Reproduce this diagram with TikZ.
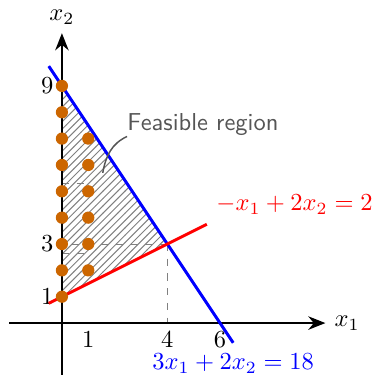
\documentclass[tikz,border=0pt]{standalone}
\usepackage{amsmath}
\usepackage{tikz}
\usetikzlibrary{calc, arrows.meta, positioning, patterns}
\definecolor{dotorange}{RGB}{204,102,0}
\definecolor{notegray}{RGB}{85,85,85}

\begin{document}
\begin{tikzpicture}[x=0.378cm, y=0.378cm,
        axisline/.style={thick, -{Stealth[length=7pt, width=5.5pt]}},
        guideline/.style={dashed, gray, thin},
        lpdot/.style={fill=dotorange},
        constr/.style={very thick},
        ticklab/.style={inner sep=1pt}]
        \useasboundingbox (-2.35,-1.97) rectangle (11.92,12.26);

        % corners of the feasible region
        \coordinate (v1) at (0,1);
        \coordinate (v2) at (4,3);
        \coordinate (v3) at (0,9);
        \fill[pattern=north east lines, pattern color=gray] (v1) -- (v2) -- (v3) -- cycle;

        \draw[guideline] (0,0) grid (1,7);
        \draw[guideline] (v2) -- (4,0);
        \draw[guideline] (v2) -- (0,3);

        \coordinate (xstart) at (-2,0);
        \coordinate (xend) at (10,0);
        \coordinate (ystart) at (0,-2);
        \coordinate (yend) at (0,11);
        \draw[axisline] (xstart) -- (xend) node[right] (xlab) {$x_1$};
        \draw[axisline] (ystart) -- (yend) node[above] (ylab) {$x_2$};

        \foreach \t in {1,4,6}
            \node[ticklab, below=2.3pt] (xt\t) at (\t,0) {$\t$};
        \foreach \t in {1,3,9}
            \node[left] (yt\t) at (0,\t) {$\t$};

        \coordinate (bstart) at (-0.5,9.75);
        \coordinate (bend) at (6.5,-0.75);
        \draw[constr, blue] (bstart) -- (bend) node[below=3pt, inner sep=1pt] (blab) {$3x_1+2x_2=18$};

        \coordinate (rstart) at (-0.5,0.75);
        \coordinate (rend) at (5.5,3.75);
        \draw[constr, red] (rstart) -- (rend) node[above right] (rlab) {$-x_1+2x_2=2$};

        \foreach \y in {1,...,9}
            \fill[lpdot] (0,\y) circle (2.5pt);
        \foreach \y in {2,...,7}
            \fill[lpdot] (1,\y) circle (2.5pt);

        \node[anchor=base west, inner sep=0pt, text=notegray, font=\sffamily] (feas) at (2.47,7.29) {Feasible region};
        \coordinate (feaspt) at (1.55,5.7);
        \draw[notegray, semithick] (feas.south west) to[out=205, in=80] (feaspt);
    \end{tikzpicture}
\end{document}
